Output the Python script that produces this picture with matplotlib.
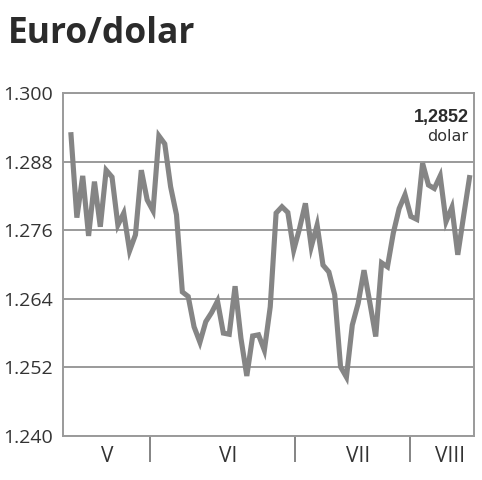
import matplotlib.pyplot as plt

# trading-day index and EUR/USD rate
day = list(range(69))
rate = [
    1.2927, 1.2782, 1.2855, 1.2750, 1.2845, 1.2766, 1.2865, 1.2853, 1.2769, 1.2790,
    1.2724, 1.2752, 1.2865, 1.2813, 1.2794, 1.2925, 1.2911, 1.2836, 1.2787, 1.2652,
    1.2644, 1.2591, 1.2564, 1.2600, 1.2616, 1.2636, 1.2580, 1.2578, 1.2662, 1.2571,
    1.2505, 1.2575, 1.2577, 1.2550, 1.2626, 1.2790, 1.2801, 1.2791, 1.2725, 1.2763,
    1.2807, 1.2731, 1.2769, 1.2699, 1.2687, 1.2647, 1.2521, 1.2503, 1.2594, 1.2632,
    1.2690, 1.2633, 1.2574, 1.2703, 1.2696, 1.2755, 1.2798, 1.2822, 1.2784, 1.2779,
    1.2877, 1.2839, 1.2833, 1.2855, 1.2775, 1.2800, 1.2717, 1.2785, 1.2852,
]
y_ticks = [1.240, 1.252, 1.264, 1.276, 1.288, 1.300]
y_labels = ["1.240", "1.252", "1.264", "1.276", "1.288", "1.300"]
month_labels = ["V", "VI", "VII", "VIII"]
month_bounds = [13.48, 38.23, 57.85]
month_centers = [6.14, 26.8, 49.0, 64.7]
last_label = "1,2852"
unit_label = "dolar"

W, H = 482, 480
fig = plt.figure(figsize=(W / 100, H / 100), dpi=100)
ax = fig.add_axes([63 / W, 1 - 436 / H, 411 / W, 343 / H])

grid_c = "#9a9a9a"
ax.plot(day, rate, color="#858585", lw=3.7, solid_joinstyle="miter", zorder=3)

ax.set_xlim(-1.365, 68.77)
ax.set_ylim(1.240, 1.300)
ax.set_yticks(y_ticks)
ax.set_yticklabels(y_labels, family="Open Sans", fontsize=14, color="#333333")
ax.tick_params(axis="y", length=0, pad=7)
ax.yaxis.grid(True, color=grid_c, lw=1.4)

ax.set_xticks(month_bounds)
ax.set_xticklabels([])
ax.tick_params(axis="x", which="major", direction="out", length=19, width=1.2,
               color="#707070")
ax.set_xticks(month_centers, minor=True)
ax.set_xticklabels(month_labels, minor=True, family="Open Sans", fontsize=15,
                   color="#333333")
ax.tick_params(axis="x", which="minor", length=0, pad=7)

for s in ax.spines.values():
    s.set_color(grid_c)
    s.set_linewidth(1.4)

fig.text(8 / W, 1 - 43 / H, "Euro/dolar", family="Open Sans",
         fontweight="bold", fontsize=25.5, color="#2b2b2b", va="baseline")
fig.text(469 / W, 1 - 122 / H, last_label, family="Liberation Sans",
         fontweight="bold", fontsize=13, color="#2b2b2b", ha="right", va="baseline")
fig.text(468 / W, 1 - 141 / H, unit_label, family="DejaVu Sans",
         fontsize=11.5, color="#333333", ha="right", va="baseline")

fig.savefig("out.png", dpi=100)
